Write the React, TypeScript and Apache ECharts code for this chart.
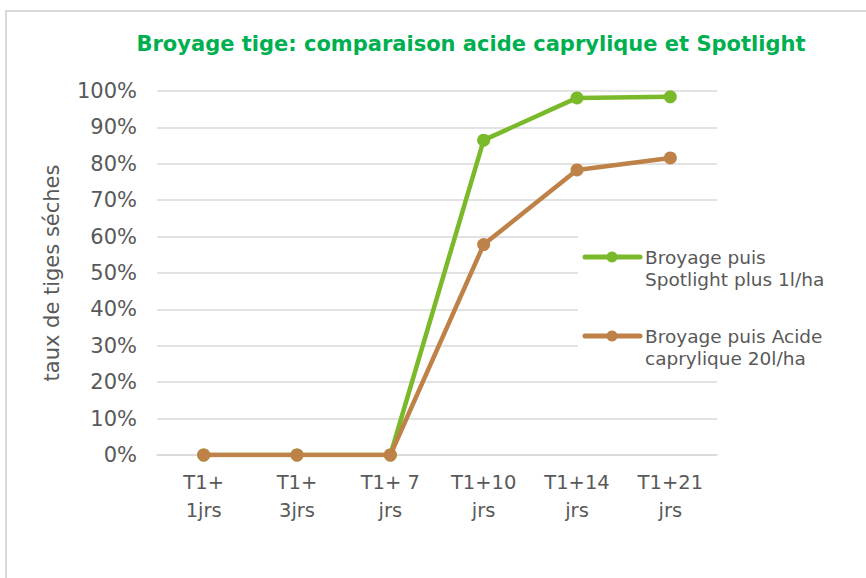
import React, { useEffect, useRef } from "react";
import * as echarts from "echarts";

const categories = ["T1+\n1jrs", "T1+\n3jrs", "T1+ 7\njrs", "T1+10\njrs", "T1+14\njrs", "T1+21\njrs"];
const spotlight = [0, 0, 0, 86.5, 98.1, 98.4];
const caprylique = [0, 0, 0, 57.8, 78.3, 81.6];
const seriesNames = ["Broyage puis\nSpotlight plus 1l/ha", "Broyage puis Acide\ncaprylique 20l/ha"];
const colors = ["#7AB929", "#BE8249"];
const titleText = "Broyage tige: comparaison acide caprylique et Spotlight";
const yAxisName = "taux de tiges séches";

export default function App() {
  const ref = useRef<HTMLDivElement>(null);
  useEffect(() => {
    if (!ref.current) return;
    const chart = echarts.init(ref.current, undefined, { renderer: "svg" });
    const font = "DejaVu Sans";
    const legendItems = seriesNames.map((n, i) => {
      const y = 257 + i * 79;
      return [
        { type: "line", shape: { x1: 585, y1: y, x2: 640, y2: y }, style: { stroke: colors[i], lineWidth: 5, lineCap: "round" }, z: 10 },
        { type: "circle", shape: { cx: 612, cy: y, r: 5.5 }, style: { fill: colors[i] }, z: 11 },
        { type: "text", x: 645, y: y - 11, style: { text: n, fill: "#595959", font: `18.5px ${font}`, lineHeight: 22, verticalAlign: "top" }, z: 10 },
      ];
    }).flat();
    chart.setOption({
      animation: false,
      backgroundColor: "#ffffff",
      title: {
        text: titleText,
        left: 466,
        top: 28,
        textAlign: "center",
        textStyle: { color: "#00B050", fontFamily: "DejaVu Sans", fontWeight: "bold", fontSize: 21 },
      },
      grid: { left: 157, right: 149, top: 91, bottom: 123, containLabel: false },
      xAxis: {
        type: "category",
        data: categories,
        boundaryGap: true,
        axisLine: { show: true, lineStyle: { color: "#D9D9D9", width: 1.5 } },
        axisTick: { show: false },
        axisLabel: { color: "#595959", fontFamily: font, fontSize: 19.5, lineHeight: 28, margin: 13 },
      },
      yAxis: {
        type: "value",
        min: 0,
        max: 100,
        interval: 10,
        name: yAxisName,
        nameLocation: "middle",
        nameGap: 95,
        nameTextStyle: { color: "#595959", fontFamily: font, fontSize: 21 },
        axisLine: { show: false },
        axisTick: { show: false },
        axisLabel: { color: "#595959", fontFamily: font, fontSize: 21, formatter: "{value}%", margin: 20 },
        splitLine: { lineStyle: { color: "#D9D9D9", width: 1.5 } },
      },
      series: [0, 1].map((i) => ({
        type: "line",
        name: seriesNames[i],
        data: i === 0 ? spotlight : caprylique,
        color: colors[i],
        symbol: "circle",
        symbolSize: 13,
        lineStyle: { width: 4.5, color: colors[i] },
        itemStyle: { color: colors[i] },
        z: 3 + i,
      })),
      graphic: [
        { type: "rect", shape: { x: 6, y: 11, width: 900, height: 600 }, style: { fill: "none", stroke: "#D9D9D9", lineWidth: 2 }, z: 0 },
        { type: "rect", shape: { x: 578, y: 225, width: 145, height: 150 }, style: { fill: "#ffffff" }, z: 1, silent: true },
        ...legendItems,
      ],
    });
    return () => chart.dispose();
  }, []);
  return <div ref={ref} style={{ position: "fixed", left: 0, top: 0, width: 866, height: 578 }} />;
}
